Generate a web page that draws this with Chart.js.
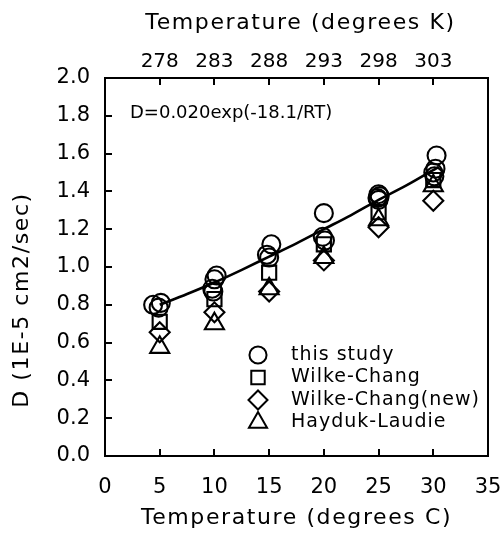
<!DOCTYPE html>
<html><head><meta charset="utf-8">
<script src="https://cdn.jsdelivr.net/npm/chart.js@4/dist/chart.umd.min.js"></script>
<style>html,body{margin:0;padding:0;background:#fff}canvas{display:block}</style>
</head><body>
<canvas id="c" width="504" height="534"></canvas>
<script>
// ---- data ----
const studyT = [4.4, 5.1, 4.9, 9.8, 10.0, 10.2, 9.9, 14.8, 15.2, 15.0, 19.9, 20.1, 20.0, 24.9, 25.0, 25.1, 25.0, 30.0, 30.2, 30.3, 30.1];
const studyD = [0.80, 0.81, 0.785, 0.885, 0.935, 0.955, 0.87, 1.065, 1.12, 1.05, 1.16, 1.14, 1.285, 1.365, 1.385, 1.375, 1.355, 1.50, 1.52, 1.59, 1.48];
const modelT = [5, 10, 15, 20, 25, 30];
const wilkeChang = [0.71, 0.83, 0.97, 1.12, 1.29, 1.46];
const wilkeChangNew = [0.655, 0.76, 0.87, 1.035, 1.21, 1.35];
const haydukLaudie = [0.575, 0.70, 0.885, 1.05, 1.25, 1.43];
const fitT = [5, 7.5, 10, 12.5, 15, 17.5, 20, 22.5, 25, 27.5, 30.5];
const fitD = [0.80, 0.857, 0.918, 0.985, 1.055, 1.125, 1.20, 1.275, 1.355, 1.43, 1.53];
const kelvinPos = [5, 10, 15, 20, 25, 30];
const kelvinLabels = ['278', '283', '288', '293', '298', '303'];
const seriesNames = ['this study', 'Wilke-Chang', 'Wilke-Chang(new)', 'Hayduk-Laudie'];
const xTitle = 'Temperature (degrees C)';
const xTopTitle = 'Temperature (degrees K)';
const yTitle = 'D (1E-5 cm2/sec)';
const fitLabel = 'D=0.020exp(-18.1/RT)';

const FONT = '"DejaVu Sans", sans-serif';
const pts = (xs, ys) => xs.map((x, i) => ({x, y: ys[i]}));
const markerStyles = [
  {pointStyle: 'circle', radius: 9},
  {pointStyle: 'rect', radius: 10},
  {pointStyle: 'rectRot', radius: 10},
  {pointStyle: 'triangle', radius: 11}
];
const seriesData = [pts(studyT, studyD), pts(modelT, wilkeChang), pts(modelT, wilkeChangNew), pts(modelT, haydukLaudie)];

const datasets = [{
  label: 'fit', data: pts(fitT, fitD), showLine: true, borderColor: '#000', borderWidth: 2.6,
  pointRadius: 0, cubicInterpolationMode: 'monotone', fill: false, order: 5
}];
seriesNames.forEach((name, i) => datasets.push({
  label: name, data: seriesData[i], showLine: false,
  pointStyle: markerStyles[i].pointStyle, pointRadius: markerStyles[i].radius,
  pointBorderColor: '#000', pointBackgroundColor: 'rgba(0,0,0,0)', pointBorderWidth: 2.1, order: i
}));

const zeroPad = s => { s.paddingLeft = 0; s.paddingRight = 0; s.paddingTop = 0; s.paddingBottom = 0; };

const decor = {
  id: 'decor',
  afterDraw(chart) {
    const {ctx, chartArea: a, scales} = chart;
    ctx.save();
    ctx.strokeStyle = '#000'; ctx.lineWidth = 2;
    ctx.strokeRect(a.left, a.top, a.right - a.left, a.bottom - a.top);
    const L = 7;
    ctx.beginPath();
    scales.x.ticks.forEach(t => {
      if (t.value <= scales.x.min || t.value >= scales.x.max) return;
      const px = Math.round(scales.x.getPixelForValue(t.value));
      ctx.moveTo(px, a.bottom); ctx.lineTo(px, a.bottom - L);
    });
    scales.xTop.ticks.forEach(t => {
      const px = Math.round(scales.xTop.getPixelForValue(t.value));
      ctx.moveTo(px, a.top); ctx.lineTo(px, a.top + L);
    });
    scales.y.ticks.forEach(t => {
      if (t.value <= scales.y.min || t.value >= scales.y.max) return;
      const py = Math.round(scales.y.getPixelForValue(t.value));
      ctx.moveTo(a.left, py); ctx.lineTo(a.left + L, py);
    });
    ctx.stroke();

    ctx.fillStyle = '#000';
    ctx.textAlign = 'center'; ctx.textBaseline = 'middle';
    ctx.font = '22px ' + FONT;
    ctx.letterSpacing = '1.6px';
    const cx = (a.left + a.right) / 2;
    ctx.fillText(xTitle, cx, a.bottom + 62);
    ctx.fillText(xTopTitle, cx + 4, a.top - 55);
    ctx.save();
    ctx.translate(22, (a.top + a.bottom) / 2 + 33);
    ctx.rotate(-Math.PI / 2);
    ctx.fillText(yTitle, 0, 0);
    ctx.restore();

    // fit equation
    ctx.letterSpacing = '0px';
    ctx.font = '18px ' + FONT;
    ctx.textAlign = 'left';
    ctx.fillText(fitLabel, a.left + 25, a.top + 35);

    // legend
    ctx.font = '19px ' + FONT;
    ctx.letterSpacing = '1px';
    const symX = a.left + 153, txtX = a.left + 186;
    seriesNames.forEach((name, i) => {
      const y = a.top + 277 + i * 22.5;
      ctx.fillStyle = 'rgba(0,0,0,0)';
      ctx.strokeStyle = '#000'; ctx.lineWidth = 2;
      ctx.beginPath();
      Chart.helpers.drawPoint(ctx, {pointStyle: markerStyles[i].pointStyle, radius: markerStyles[i].radius * 0.95, rotation: 0, borderWidth: 2}, symX, y);
      ctx.fillStyle = '#000';
      ctx.fillText(name, txtX, y);
    });
    ctx.restore();
  }
};

new Chart(document.getElementById('c'), {
  type: 'scatter',
  data: {datasets},
  options: {
    responsive: false, animation: false, devicePixelRatio: 1,
    layout: {padding: {left: 0, right: 16, top: 0, bottom: 0}},
    plugins: {legend: {display: false}, tooltip: {enabled: false}},
    scales: {
      x: {
        type: 'linear', position: 'bottom', min: 0, max: 35,
        ticks: {stepSize: 5, color: '#000', font: {family: FONT, size: 21}, padding: 19, maxRotation: 0},
        grid: {display: false, drawTicks: false}, border: {display: false},
        afterFit: s => { s.height = 78; zeroPad(s); }
      },
      xTop: {
        type: 'linear', position: 'top', min: 0, max: 35,
        afterBuildTicks: s => { s.ticks = kelvinPos.map(v => ({value: v})); },
        ticks: {color: '#000', font: {family: FONT, size: 20}, padding: 4, maxRotation: 0, autoSkip: false,
          callback: (v) => kelvinLabels[kelvinPos.indexOf(v)]},
        grid: {display: false, drawTicks: false}, border: {display: false},
        afterFit: s => { s.height = 78; zeroPad(s); }
      },
      y: {
        type: 'linear', position: 'left', min: 0, max: 2,
        ticks: {stepSize: 0.2, color: '#000', font: {family: FONT, size: 21}, padding: 15,
          callback: v => v.toFixed(1)},
        grid: {display: false, drawTicks: false}, border: {display: false},
        afterFit: s => { s.width = 105; zeroPad(s); }
      }
    }
  },
  plugins: [decor]
});
</script>
</body></html>
